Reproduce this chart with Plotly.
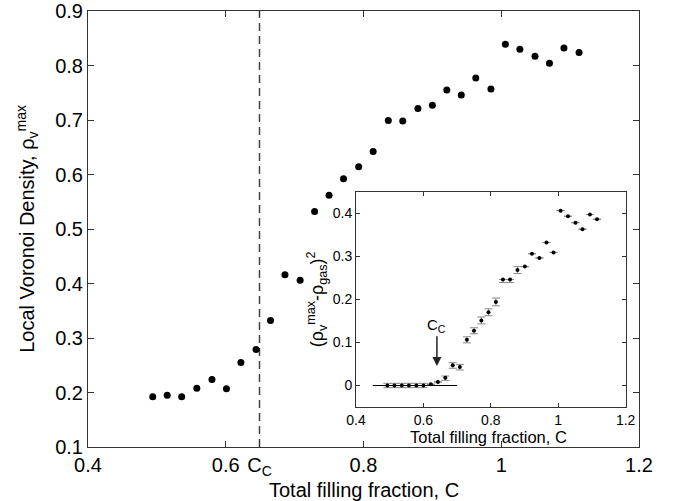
import plotly.graph_objects as go

# Main plot data
fill_fraction = [0.494, 0.515, 0.536, 0.558, 0.580, 0.601, 0.622, 0.644, 0.665, 0.686,
                 0.708, 0.729, 0.750, 0.771, 0.793, 0.814, 0.836, 0.857, 0.879, 0.900,
                 0.921, 0.942, 0.963, 0.985, 1.006, 1.027, 1.049, 1.070, 1.091, 1.113]
voronoi_density = [0.192, 0.195, 0.192, 0.208, 0.224, 0.207, 0.255, 0.279, 0.332, 0.416,
                   0.406, 0.532, 0.562, 0.592, 0.614, 0.642, 0.699, 0.698, 0.721, 0.727,
                   0.755, 0.746, 0.777, 0.757, 0.839, 0.830, 0.817, 0.804, 0.832, 0.824]

# Inset data
inset_c = [0.493, 0.514, 0.536, 0.557, 0.579, 0.600, 0.622, 0.643, 0.665, 0.687,
           0.708, 0.729, 0.750, 0.772, 0.793, 0.815, 0.836, 0.857, 0.879, 0.901,
           0.922, 0.944, 0.965, 0.986, 1.007, 1.029, 1.051, 1.072, 1.094, 1.115]
inset_sq = [0.000, 0.000, 0.000, 0.000, 0.000, 0.000, 0.003, 0.008, 0.018, 0.047,
            0.043, 0.106, 0.127, 0.151, 0.170, 0.194, 0.246, 0.246, 0.268, 0.276,
            0.306, 0.296, 0.332, 0.309, 0.406, 0.393, 0.378, 0.363, 0.397, 0.386]
inset_err_hi = [0.005, 0.005, 0.005, 0.005, 0.005, 0.005, 0.000, 0.000, 0.004, 0.006,
                0.006, 0.007, 0.007, 0.008, 0.008, 0.009, 0.000, 0.000, 0.008, 0.000,
                0.0, 0.0, 0.0, 0.0, 0.0, 0.0, 0.0, 0.0, 0.0, 0.0]
inset_err_lo = [0.005, 0.005, 0.005, 0.005, 0.005, 0.005, 0.000, 0.000, 0.006, 0.007,
                0.007, 0.007, 0.007, 0.008, 0.008, 0.009, 0.007, 0.007, 0.008, 0.000,
                0.0, 0.0, 0.0, 0.0, 0.0, 0.0, 0.0, 0.0, 0.0, 0.0]
gas_line_c = [0.45, 0.70]
gas_line_v = [0.0, 0.0]

c_critical = 0.649
c_arrow = 0.64

main_xticks = [0.4, 0.6, c_critical, 0.8, 1.0, 1.2]
main_xtext = ["0.4", "0.6", "C<sub>C</sub>", "0.8", "1", "1.2"]
main_yticks = [0.1, 0.2, 0.3, 0.4, 0.5, 0.6, 0.7, 0.8, 0.9]
inset_xticks = [0.4, 0.6, 0.8, 1.0, 1.2]
inset_xtext = ["0.4", "0.6", "0.8", "1", "1.2"]
inset_yticks = [0, 0.1, 0.2, 0.3, 0.4]

FONT = "Liberation Sans, Arial, sans-serif"
AXC = "#333333"

fig = go.Figure()

fig.add_trace(go.Scatter(
    x=[c_critical, c_critical], y=[0.1, 0.9], mode="lines",
    line=dict(color="#444444", width=1.5, dash="8px,5px"),
    xaxis="x", yaxis="y", showlegend=False, hoverinfo="skip"))

fig.add_trace(go.Scatter(
    x=fill_fraction, y=voronoi_density, mode="markers",
    marker=dict(color="black", size=7),
    xaxis="x", yaxis="y", showlegend=False))

fig.add_trace(go.Scatter(
    x=gas_line_c, y=gas_line_v, mode="lines",
    line=dict(color="black", width=1),
    xaxis="x2", yaxis="y2", showlegend=False))

fig.add_trace(go.Scatter(
    x=inset_c, y=inset_sq, mode="markers",
    marker=dict(color="black", size=4),
    error_y=dict(type="data", symmetric=False, array=inset_err_hi, arrayminus=inset_err_lo,
                 color="#888888", thickness=1, width=4),
    xaxis="x2", yaxis="y2", showlegend=False))

fig.update_layout(
    width=681, height=501,
    margin=dict(l=88, r=42, t=11, b=54, autoexpand=False),
    paper_bgcolor="white", plot_bgcolor="white",
    font=dict(family=FONT, color="black"),
    xaxis=dict(
        domain=[0, 1], range=[0.4, 1.2], automargin=False,
        tickmode="array", tickvals=main_xticks, ticktext=main_xtext,
        ticks="inside", ticklen=6, tickcolor=AXC,
        showline=True, linecolor=AXC, linewidth=1, mirror="ticks",
        showgrid=False, zeroline=False,
        tickfont=dict(size=20),
    ),
    yaxis=dict(
        domain=[0, 1], range=[0.1, 0.9], automargin=False,
        tickmode="array", tickvals=main_yticks,
        ticks="inside", ticklen=6, tickcolor=AXC,
        showline=True, linecolor=AXC, linewidth=1, mirror="ticks",
        showgrid=False, zeroline=False,
        tickfont=dict(size=20),
    ),
    xaxis2=dict(
        domain=[0.4864, 0.9758], range=[0.4, 1.2], anchor="y2", automargin=False,
        tickmode="array", tickvals=inset_xticks, ticktext=inset_xtext,
        ticks="inside", ticklen=4, tickcolor=AXC,
        showline=True, linecolor=AXC, linewidth=1, mirror="ticks",
        showgrid=False, zeroline=False,
        tickfont=dict(size=14),
    ),
    yaxis2=dict(
        domain=[0.0917, 0.5856], range=[-0.05, 0.45], anchor="x2", automargin=False,
        tickmode="array", tickvals=inset_yticks, ticktext=["0", "0.1", "0.2", "0.3", "0.4"],
        ticks="inside", ticklen=4, tickcolor=AXC,
        showline=True, linecolor=AXC, linewidth=1, mirror="ticks",
        showgrid=False, zeroline=False,
        tickfont=dict(size=14),
        title=dict(text="(\u03c1<sub>v</sub><sup>max</sup>-\u03c1<sub>gas</sub>)<sup>2</sup>",
                   font=dict(size=18), standoff=4),
    ),
    shapes=[dict(type="rect", xref="x2 domain", yref="y2 domain", x0=0, x1=1, y0=0, y1=1,
                 fillcolor="white", line=dict(width=0), layer="below")],
    annotations=[
        dict(x=c_arrow, y=0.045, xref="x2", yref="y2",
             ax=c_arrow, ay=0.14, axref="x2", ayref="y2",
             text="C<sub>C</sub>", font=dict(size=15, family=FONT),
             showarrow=True, arrowhead=2, arrowsize=1.2, arrowwidth=1.5, arrowcolor="#222222"),
        dict(x=-0.111, y=0.5, xref="paper", yref="paper", xanchor="center", yanchor="middle",
             text="Local Voronoi Density, \u03c1<sub>v</sub><sup>max</sup>", textangle=-90,
             font=dict(size=20, family=FONT), showarrow=False),
        dict(x=0.5, y=-0.0975, xref="paper", yref="paper", xanchor="center", yanchor="middle",
             text="Total filling fraction, C", font=dict(size=20, family=FONT),
             showarrow=False),
        dict(x=0.727, y=0.0235, xref="paper", yref="paper", xanchor="center", yanchor="middle",
             text="Total filling fraction, C", font=dict(size=16.5, family=FONT),
             showarrow=False),
    ],
)

fig.write_html(
    "out.html",
    config={"displayModeBar": False},
    post_script="document.body.style.margin='0';document.body.style.padding='0';"
                "document.body.style.overflow='hidden';",
)
